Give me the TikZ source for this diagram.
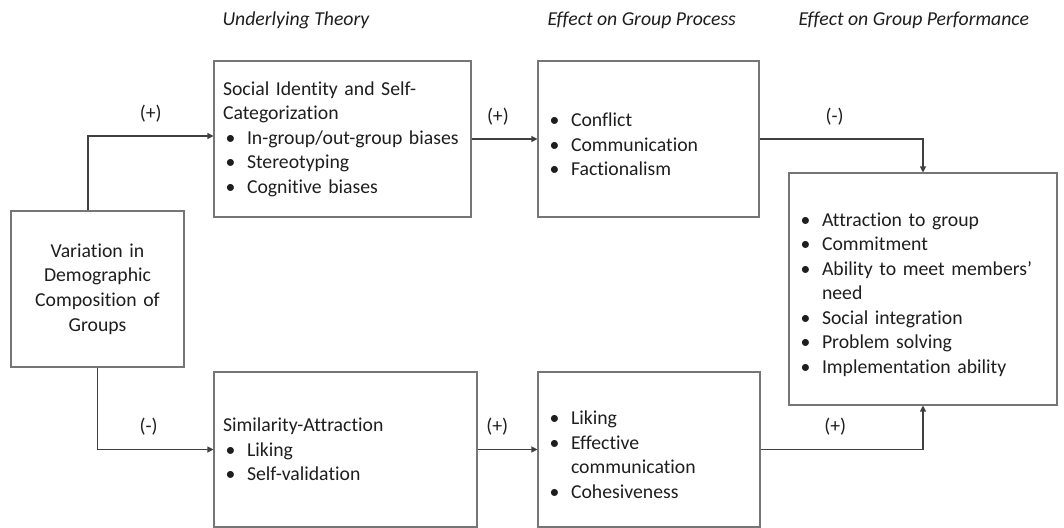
\documentclass[tikz,border=0pt]{standalone}
\usepackage{fontspec}
\setmainfont{Carlito}[Ligatures=NoCommon]
\usepackage{xcolor}
\definecolor{Box-border}{RGB}{118, 118, 118}
\definecolor{Line-dark}{RGB}{64, 64, 64}
\definecolor{Text-dark}{RGB}{30, 30, 30}
\usepackage{tikz}
\usetikzlibrary{arrows.meta,positioning,calc}

% 列表项：圆点 + 缩进；\cont 为同一项的续行
\newcommand{\bul}[1]{\par\noindent\hspace*{2pt}\makebox[16pt][l]{\textbullet}#1}
\newcommand{\cont}[1]{\par\noindent\hspace*{18pt}#1}

\begin{document}
\begin{tikzpicture} [ % 先定义样式，坐标单位为像素
            x=0.75pt, y=-0.75pt, line width=0.8pt,
            >={Triangle[length=4.5pt,width=4.5pt]},
            font=\fontsize{14.8}{18.4}\selectfont, text=Text-dark,
            head/.style = {anchor=west, inner sep=0pt, font=\fontsize{14.8}{18.4}\selectfont\itshape},
            box/.style = {draw=Box-border, inner xsep=6.75pt, inner ysep=0pt, align=left, minimum height=117pt},
            link/.style = {->, draw=Line-dark},
            sign/.style = {above=10pt, inner sep=0pt}
        ]

        \useasboundingbox (0,0) rectangle (1064,528);
        \clip (0,0) rectangle (1064,528);

        % 标题
        \node [head] (h1) at (222,20) {Underlying Theory};
        \node [head] (h2) at (547,20) {Effect on Group Process};
        \node [head] (h3) at (798,20) {Effect on Group Performance};

        % 左
        \node [box, align=center, text width=116.25pt] (var) at (97.5,289)
            {Variation in\\Demographic\\Composition of\\Groups};

        % 上
        \node [box, text width=179.25pt] (soc) at (342.5,139)
            {Social Identity and Self-\\Categorization
             \bul{In-group/out-group biases}
             \bul{Stereotyping}
             \bul{Cognitive biases}};
        \node [box, text width=152.25pt] (con) at (648.5,139)
            {\bul{Conflict}
             \bul{Communication}
             \bul{Factionalism}};

        % 下
        \node [box, text width=183.75pt, minimum height=116.25pt] (sim) at (345.5,449.5)
            {Similarity-Attraction
             \bul{Liking}
             \bul{Self-validation}};
        \node [box, text width=153pt, minimum height=116.25pt] (lik) at (649,449.5)
            {\bul{Liking}
             \bul{Effective}
             \cont{communication}
             \bul{Cohesiveness}};

        % 右
        \node [box, text width=187.5pt, minimum height=174pt] (perf) at (923,289)
            {\bul{Attraction to group}
             \bul{Commitment}
             \bul{Ability to meet members’}
             \cont{need}
             \bul{Social integration}
             \bul{Problem solving}
             \bul{Implementation ability}};

        % 连线
        \draw [link] ($(var.north)+(-9.5,0)$) |- node [sign, pos=0.75] {(+)} ($(soc.west)+(0,-3)$);
        \draw [link] (var.south) |- node [sign, pos=0.72] {(-)} (sim.west);
        \draw [link] (soc.east) -- node [sign, pos=0.4] {(+)} (con.west);
        \draw [link] (sim.east) -- node [sign, pos=0.33] {(+)} (lik.west);
        \draw [link] (con.east) -| node [sign, pos=0.23] {(-)} (perf.north);
        \draw [link] (lik.east) -| node [sign, pos=0.23] {(+)} (perf.south);

    \end{tikzpicture}
\end{document}
